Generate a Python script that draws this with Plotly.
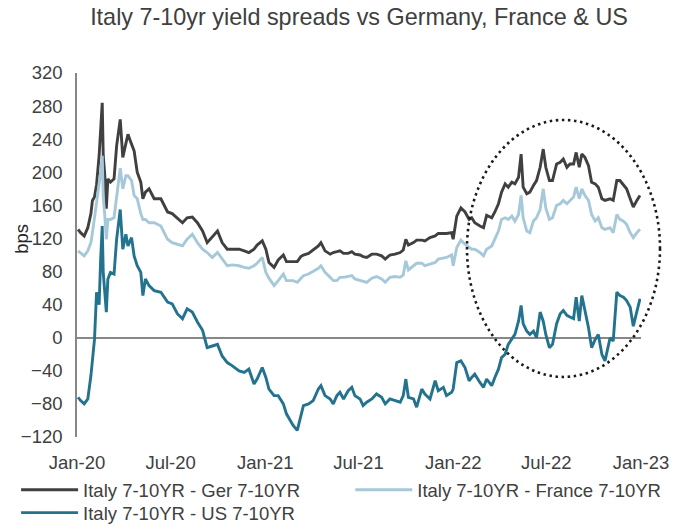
import plotly.graph_objects as go

# ---------------- data ----------------
dates = [
    "2020-01-03", "2020-01-08", "2020-01-15", "2020-01-22", "2020-01-28", "2020-01-31",
    "2020-02-04", "2020-02-08", "2020-02-13", "2020-02-16", "2020-02-19", "2020-02-21",
    "2020-02-24", "2020-02-27", "2020-03-01", "2020-03-06", "2020-03-13", "2020-03-18",
    "2020-03-25", "2020-03-30", "2020-04-05", "2020-04-09", "2020-04-16", "2020-04-21",
    "2020-04-27", "2020-05-04", "2020-05-08", "2020-05-13", "2020-05-20", "2020-05-30",
    "2020-06-12", "2020-06-25", "2020-07-04", "2020-07-14", "2020-07-24", "2020-08-02",
    "2020-08-12", "2020-08-22", "2020-09-01", "2020-09-10", "2020-09-20", "2020-09-30",
    "2020-10-09", "2020-10-19", "2020-10-29", "2020-11-11", "2020-11-21", "2020-11-30",
    "2020-12-10", "2020-12-16", "2020-12-26", "2021-01-02", "2021-01-08", "2021-01-18",
    "2021-01-26", "2021-02-05", "2021-02-11", "2021-02-18", "2021-02-24", "2021-03-04",
    "2021-03-11", "2021-03-16", "2021-03-26", "2021-04-04", "2021-04-14", "2021-04-19",
    "2021-04-27", "2021-05-07", "2021-05-13", "2021-05-20", "2021-05-26", "2021-06-02",
    "2021-06-11", "2021-06-18", "2021-06-24", "2021-07-04", "2021-07-10", "2021-07-17",
    "2021-07-27", "2021-08-05", "2021-08-15", "2021-08-22", "2021-08-31", "2021-09-10",
    "2021-09-20", "2021-09-26", "2021-10-01", "2021-10-06", "2021-10-16", "2021-10-22",
    "2021-11-01", "2021-11-07", "2021-11-17", "2021-11-27", "2021-12-03", "2021-12-13",
    "2021-12-19", "2021-12-29", "2022-01-01", "2022-01-08", "2022-01-16", "2022-01-24",
    "2022-02-01", "2022-02-06", "2022-02-12", "2022-02-22", "2022-03-01", "2022-03-07",
    "2022-03-17", "2022-03-23", "2022-03-30", "2022-04-05", "2022-04-12", "2022-04-18",
    "2022-04-25", "2022-05-01", "2022-05-08", "2022-05-13", "2022-05-17", "2022-05-24",
    "2022-05-30", "2022-06-06", "2022-06-12", "2022-06-19", "2022-06-25", "2022-06-30",
    "2022-07-07", "2022-07-13", "2022-07-21", "2022-07-28", "2022-08-03", "2022-08-10",
    "2022-08-16", "2022-08-23", "2022-08-28", "2022-09-03", "2022-09-08", "2022-09-14",
    "2022-09-21", "2022-09-27", "2022-10-04", "2022-10-10", "2022-10-17", "2022-10-23",
    "2022-11-02", "2022-11-08", "2022-11-15", "2022-11-21", "2022-11-28", "2022-12-04",
    "2022-12-11", "2022-12-17", "2022-12-24", "2022-12-30",
]

italy_ger = [
    131, 127, 123, 133, 150, 166, 170, 185, 220, 250, 284, 220,
    196, 156, 192, 188, 192, 232, 264, 218, 236, 246, 234, 226,
    200, 188, 168, 176, 180, 168, 168, 152, 150, 145, 139, 145,
    146, 139, 129, 115, 122, 129, 115, 107, 107, 107, 105, 103,
    107, 112, 117, 107, 91, 85,
    94, 100, 92, 92, 92, 92, 98, 100, 102, 106, 111, 115,
    105, 101, 103, 104, 105, 102, 102, 104, 101, 100, 98, 97,
    101, 101, 99, 95, 100, 101, 103, 106, 119, 112, 115, 118,
    118, 117, 121, 123, 126, 126, 126, 127, 119, 147, 157, 152,
    143,
    145, 139, 135, 133, 148, 145, 152, 162, 176, 186, 182, 188,
    186, 194, 222, 182, 174, 176, 184, 190, 206, 228, 206, 190,
    190, 210, 212, 216, 206, 210, 210, 224, 206, 222, 218, 208,
    188, 186, 182, 168, 166, 168, 166, 190, 190, 184, 180, 168,
    158, 166, 172,
]

italy_fra = [
    105, 102, 99, 105, 115, 127, 145, 165, 184, 200, 220, 170,
    148, 119, 143, 143, 145, 168, 205, 180, 196, 196, 190, 172,
    168, 150, 143, 143, 139, 139, 135, 119, 115, 113, 111, 119,
    125, 115, 107, 103, 97, 103, 95, 87, 88, 87, 85, 84,
    87, 90, 97, 79, 72, 63,
    69, 77, 69, 69, 69, 67, 72, 75, 77, 80, 84, 87,
    79, 73, 69, 69, 73, 73, 74, 75, 71, 69, 68, 67,
    72, 74, 71, 67, 73, 74, 73, 76, 93, 82, 87, 90,
    90, 87, 89, 91, 95, 96, 97, 100, 87, 109, 118, 113,
    109,
    107, 107, 103, 99, 107, 111, 119, 129, 143, 145, 143, 147,
    141, 149, 172, 145, 129, 127, 141, 145, 155, 180, 157, 143,
    145, 160, 162, 166, 162, 166, 170, 182, 168, 180, 172, 166,
    149, 141, 145, 133, 131, 133, 127, 149, 143, 141, 137, 127,
    121, 127, 131,
]

italy_us = [
    -72, -76, -80, -74, -46, -30, -2, 55, 40, 95, 135, 79,
    55, 31, 71, 79, 77, 119, 155, 107, 125, 111, 121, 99,
    87, 79, 51, 71, 63, 57, 55, 43, 41, 29, 23, 35,
    31, 19, 9, -12, -10, -8, -22, -30, -34, -40, -42, -38,
    -56, -50, -36, -48, -62, -70,
    -70, -80, -92, -100, -106, -112, -96, -82, -80, -76, -62, -58,
    -70, -74, -80, -70, -66, -74, -64, -60, -70, -74, -82, -78,
    -74, -68, -72, -80, -74, -76, -78, -70, -50, -72, -74, -84,
    -62, -68, -74, -52, -64, -60, -70, -66, -62, -30, -28, -36,
    -52,
    -48, -44, -54, -60, -50, -58, -48, -38, -24, -20, -8, -2,
    4, 20, 39, 17, 8, 4, 8, 0, 31, 20, 4, -12,
    -8, 17, 29, 33, 27, 25, 23, 49, 20, 51, 33, 12,
    -12, -2, 4, -20, -28, 0, -4, 55, 51, 49, 45, 37,
    14, 33, 47,
]

series_names = [
    "Italy 7-10YR - Ger 7-10YR",
    "Italy 7-10YR - France 7-10YR",
    "Italy 7-10YR - US 7-10YR",
]
series_colors = ["#404040", "#A6C9DA", "#23738F"]

x_tick_dates = ["2020-01-01", "2020-07-01", "2021-01-01", "2021-07-01",
                "2022-01-01", "2022-07-01", "2023-01-01"]
x_tick_text = ["Jan-20", "Jul-20", "Jan-21", "Jul-21", "Jan-22", "Jul-22", "Jan-23"]
y_ticks = [-120, -80, -40, 0, 40, 80, 120, 160, 200, 240, 280, 320]

title_text = "Italy 7-10yr yield spreads vs Germany, France & US"
y_title = "bps"

# ---------------- figure ----------------
FONT = "Liberation Sans, Arial, sans-serif"
TXT = "#404040"
AXIS = "#878787"

fig = go.Figure()
series_values = [italy_ger, italy_fra, italy_us]
legend_ids = ["legend", "legend2", "legend3"]
for name, vals, col, lg in zip(series_names, series_values, series_colors, legend_ids):
    fig.add_trace(go.Scatter(
        x=dates, y=vals, mode="lines", name=name, legend=lg,
        line=dict(color=col, width=2.9),
    ))

leg_common = dict(orientation="v", xanchor="left", yanchor="top",
                  font=dict(family=FONT, size=18.5, color=TXT),
                  bgcolor="rgba(0,0,0,0)", itemwidth=57,
                  tracegroupgap=0)

fig.update_layout(
    width=686, height=529,
    margin=dict(l=77, r=45, t=73, b=92, autoexpand=False),
    paper_bgcolor="white", plot_bgcolor="white",
    font=dict(family=FONT, size=18.5, color=TXT),
    title=dict(text=title_text, x=0.5, xref="paper", xanchor="center",
               y=1 - 17 / 529, yref="container", yanchor="middle",
               font=dict(family=FONT, size=23.4, color=TXT)),
    showlegend=True,
    legend=dict(x=-0.108, y=-0.094, **leg_common),
    legend2=dict(x=0.4845, y=-0.094, **leg_common),
    legend3=dict(x=-0.108, y=-0.157, **leg_common),
    xaxis=dict(
        type="date", range=["2020-01-01", "2023-01-01"],
        tickmode="array", tickvals=x_tick_dates, ticktext=x_tick_text,
        showgrid=False, zeroline=False, showline=False, ticks="",
        ticklabelstandoff=12,
        tickfont=dict(family=FONT, size=18.5, color=TXT),
    ),
    yaxis=dict(
        range=[-120, 320], tickmode="array", tickvals=y_ticks,
        showgrid=False, zeroline=True, zerolinecolor=AXIS, zerolinewidth=1.6,
        showline=True, linecolor=AXIS, linewidth=1.6, ticks="",
        ticklabelstandoff=9,
        tickfont=dict(family=FONT, size=18.5, color=TXT),
    ),
)

# y-axis title
fig.add_annotation(text=y_title, xref="paper", yref="paper",
                   x=-0.099, y=0.545, textangle=-90, showarrow=False,
                   xanchor="center", yanchor="middle",
                   font=dict(family=FONT, size=18.5, color="#262626"))

# dotted ellipse highlighting recent period
fig.add_shape(type="circle", xref="paper", yref="paper",
              x0=0.6915, x1=1.0337, y0=0.165, y1=0.871,
              line=dict(color="#1A1A1A", width=2.6, dash="2.5px,3.6px"),
              layer="above")

fig.write_html("out.html",
               config={"displayModeBar": False},
               post_script="document.body.style.margin='0';document.body.style.padding='0';")
